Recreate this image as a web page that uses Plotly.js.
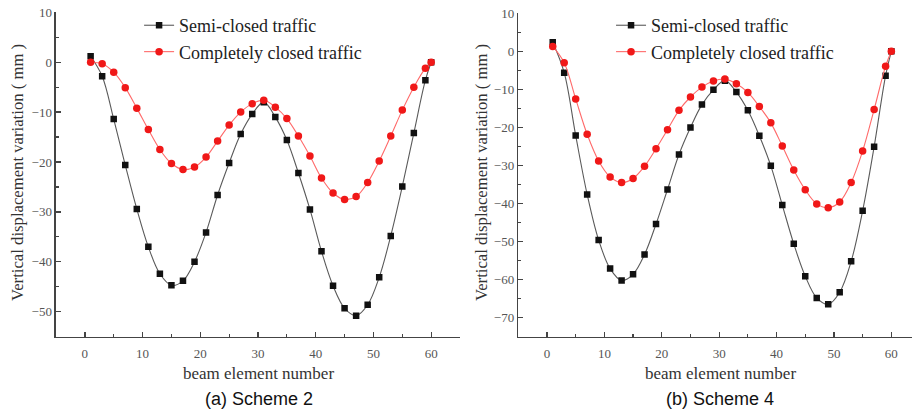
<!DOCTYPE html>
<html>
<head>
<meta charset="utf-8">
<script src="https://cdn.plot.ly/plotly-3.0.1.min.js"></script>
<style>html,body{margin:0;padding:0;background:#fff;}#chart{width:912px;height:414px;}</style>
</head>
<body>
<div id="chart"></div>
<script>
// Scheme 2 (left panel)
const xA = [1,3,5,7,9,11,13,15,17,19,21,23,25,27,29,31,33,35,37,39,41,43,45,47,49,51,53,55,57,59,60];
const semiA = [1.2,-2.8,-11.4,-20.6,-29.4,-37.0,-42.4,-44.7,-43.8,-40.0,-34.1,-26.6,-20.2,-14.4,-10.4,-8.0,-11.0,-15.6,-22.2,-29.5,-37.9,-44.8,-49.3,-50.8,-48.6,-43.1,-34.8,-24.9,-14.2,-3.6,0];
const closedA = [0,-0.3,-2.0,-5.1,-9.2,-13.5,-17.5,-20.3,-21.5,-21.0,-19.0,-15.8,-12.6,-10.0,-8.3,-7.6,-9.0,-11.3,-14.8,-18.8,-23.2,-26.2,-27.5,-26.9,-24.1,-19.8,-14.8,-9.6,-5.0,-1.2,0];
// Scheme 4 (right panel)
const xB = [1,3,5,7,9,11,13,15,17,19,21,23,25,27,29,31,33,35,37,39,41,43,45,47,49,51,53,55,57,59,60];
const semiB = [2.4,-5.6,-22.1,-37.6,-49.6,-57.1,-60.2,-58.6,-53.4,-45.4,-36.3,-27.1,-20.0,-14.0,-10.1,-7.7,-10.7,-15.5,-22.2,-30.1,-40.4,-50.6,-59.1,-64.8,-66.5,-63.3,-55.2,-41.9,-25.1,-6.4,0];
const closedB = [1.3,-3.0,-12.5,-21.8,-28.8,-33.0,-34.5,-33.4,-30.2,-25.6,-20.6,-15.5,-12.0,-9.4,-7.8,-7.3,-8.5,-10.8,-14.5,-18.8,-24.9,-31.2,-36.4,-40.1,-41.1,-39.6,-34.5,-26.2,-15.3,-3.9,0];

const seriesNames = ['Semi-closed traffic', 'Completely closed traffic'];
const panelLabels = ['(a) Scheme 2', '(b) Scheme 4'];
const xTitle = 'beam element number';
const yTitle = 'Vertical displacement variation ( mm )';

const serif = 'Liberation Serif, Times New Roman, serif';
const sans = 'Liberation Sans, Arial, sans-serif';
const blackLine = {color:'#5a5a5a', width:1.1, shape:'spline', smoothing:1};
const redLine = {color:'#ff6a6a', width:1.1, shape:'spline', smoothing:1};
const blackMarker = {symbol:'square', size:6.5, color:'#111'};
const redMarker = {symbol:'circle', size:7.5, color:'#f01818'};

const traces = [
  {x:xA, y:semiA, name:seriesNames[0], mode:'lines+markers', line:blackLine, marker:blackMarker, xaxis:'x', yaxis:'y', legend:'legend'},
  {x:xA, y:closedA, name:seriesNames[1], mode:'lines+markers', line:redLine, marker:redMarker, xaxis:'x', yaxis:'y', legend:'legend'},
  {x:xB, y:semiB, name:seriesNames[0], mode:'lines+markers', line:blackLine, marker:blackMarker, xaxis:'x2', yaxis:'y2', legend:'legend2'},
  {x:xB, y:closedB, name:seriesNames[1], mode:'lines+markers', line:redLine, marker:redMarker, xaxis:'x2', yaxis:'y2', legend:'legend2'}
];

function xax(domain, range, anchor){
  return {domain:domain, range:range, anchor:anchor, showgrid:false, zeroline:false,
    showline:true, linecolor:'#444', linewidth:1.5,
    ticks:'inside', ticklen:5, tickwidth:1.3, tickcolor:'#444',
    tickvals:[0,10,20,30,40,50,60], ticklabelstandoff:4,
    minor:{ticks:'inside', ticklen:3, tickwidth:1.2, tickcolor:'#444', dtick:5, tick0:0, showgrid:false},
    tickfont:{family:serif, size:13, color:'#555'}};
}
function yax(domain, range, anchor){
  return {domain:domain, range:range, anchor:anchor, showgrid:false, zeroline:false,
    showline:true, linecolor:'#444', linewidth:1.5,
    ticks:'inside', ticklen:5, tickwidth:1.3, tickcolor:'#444',
    dtick:10, tick0:0,
    minor:{ticks:'inside', ticklen:3, tickwidth:1.2, tickcolor:'#444', dtick:5, tick0:0, showgrid:false},
    tickfont:{family:serif, size:13, color:'#555'}};
}
function lg(x, y){
  return {x:x, y:y, xanchor:'left', yanchor:'top', bgcolor:'rgba(0,0,0,0)',
    font:{family:serif, size:18, color:'#222'}, tracegroupgap:0, itemwidth:30};
}
function ann(text, x, y, font, angle){
  return {text:text, x:x/912, y:(414-y)/414, xref:'paper', yref:'paper', xanchor:'center', yanchor:'middle',
    showarrow:false, textangle:angle||0, font:font};
}

const titleFont = {family:serif, size:17, color:'#333'};
const yTitleFont = {family:serif, size:16.7, color:'#333'};
const panelFont = {family:sans, size:18, color:'#111'};

const layout = {
  width:912, height:414, margin:{l:0, r:0, t:0, b:0},
  paper_bgcolor:'#fff', plot_bgcolor:'rgba(0,0,0,0)',
  xaxis: xax([0.0614, 0.5044], [-5, 65], 'y'),
  yaxis: yax([0.1867, 0.9703], [-55, 10], 'x'),
  xaxis2: xax([0.5683, 1.0], [-5, 63.6], 'y2'),
  yaxis2: yax([0.1867, 0.9679], [-75, 10], 'x2'),
  legend: lg(0.1525, 0.983),
  legend2: lg(0.670, 0.983),
  annotations: [
    ann(xTitle, 258, 373, titleFont),
    ann(xTitle, 720, 373, titleFont),
    ann(yTitle, 17, 173, yTitleFont, -90),
    ann(yTitle, 481, 173, yTitleFont, -90),
    ann(panelLabels[0], 259, 399, panelFont),
    ann(panelLabels[1], 720, 399, panelFont)
  ]
};

Plotly.newPlot('chart', traces, layout, {displayModeBar:false, staticPlot:true});
</script>
</body>
</html>
